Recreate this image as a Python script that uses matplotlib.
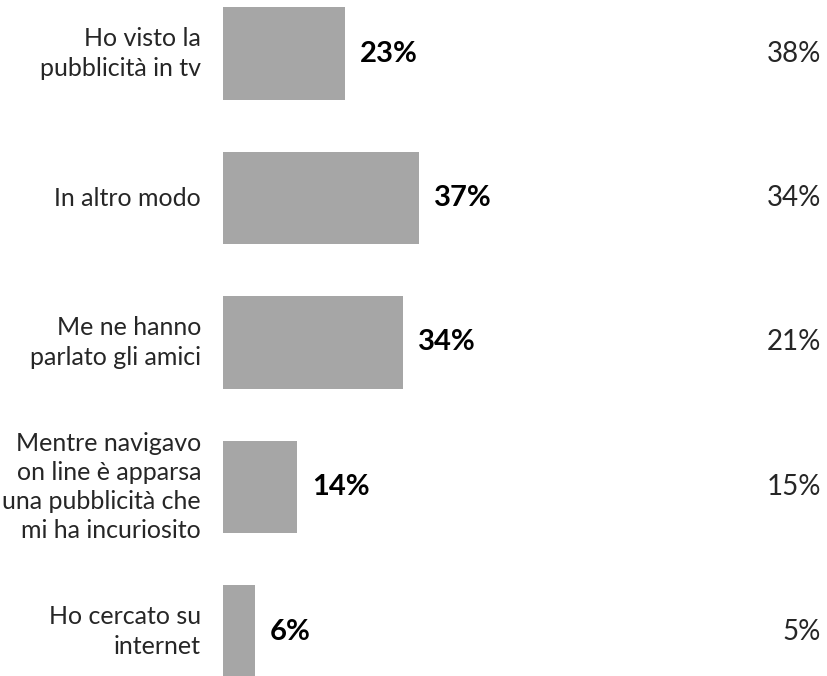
import matplotlib.pyplot as plt

categories = [
    "Ho visto la\npubblicità in tv",
    "In altro modo",
    "Me ne hanno\nparlato gli amici",
    "Mentre navigavo\non line è apparsa\nuna pubblicità che\nmi ha incuriosito",
    "Ho cercato su\ninternet",
]
values = [23, 37, 34, 14, 6]
other_values = [38, 34, 21, 15, 5]

plt.rcParams['font.family'] = ['Lato', 'DejaVu Sans']

fig = plt.figure(figsize=(8.27, 6.76), dpi=100)
# axes starts where the bars start (x=223px)
ax = fig.add_axes([223/827, 0, 604/827, 1])
ax.set_xlim(0, 604/5.3)
ax.set_ylim((676-53.5)/144.5, -53.5/144.5)
ax.axis('off')

pos = list(range(len(values)))
ax.barh(pos, values, height=0.64, color='#a6a6a6')

for i, (lab, v, o) in enumerate(zip(categories, values, other_values)):
    ax.text(-4.15, i, lab, ha='right', va='center', fontsize=18,
            color='#262626', linespacing=1.32, clip_on=False)
    ax.text(v + 2.8, i, f"{v}%", ha='left', va='center', fontsize=21,
            fontweight='bold', color='black')
    ax.text(112.8, i, f"{o}%", ha='right', va='center', fontsize=20,
            color='#262626')

fig.savefig('out.png', dpi=100)
